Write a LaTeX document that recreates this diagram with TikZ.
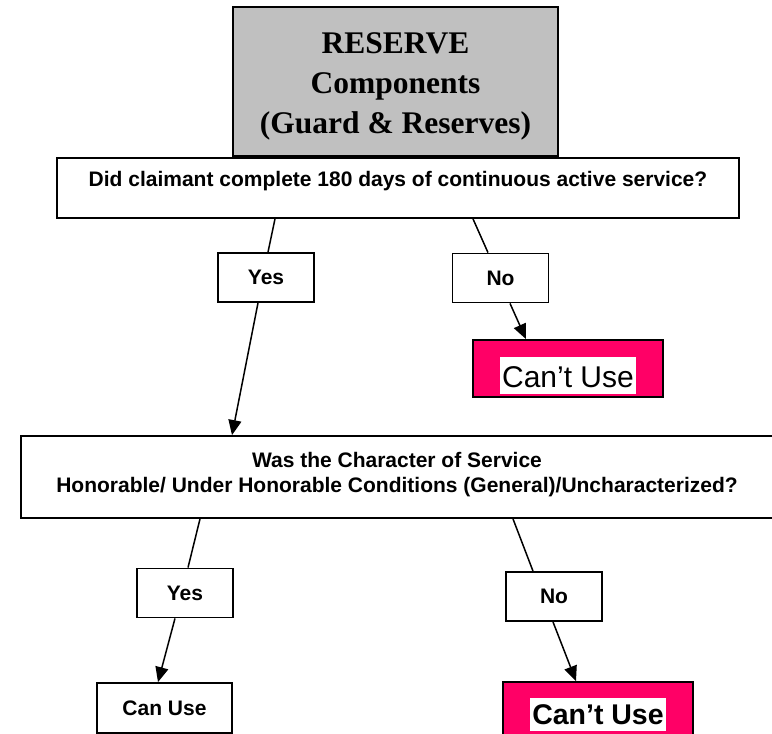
\documentclass[tikz,border=0pt]{standalone}
\usepackage{fontspec}
\setmainfont{Liberation Serif}
\setsansfont{Liberation Sans}
\usetikzlibrary{arrows.meta}
\definecolor{headgray}{HTML}{C0C0C0}
\definecolor{cantred}{HTML}{FF0066}

\begin{document}
\begin{tikzpicture}[x=1pt, y=-1pt]
	\useasboundingbox (0,0) rectangle (772,734);
	\clip (0,0) rectangle (772,734);
	% Define styles
	\tikzstyle{head}=[draw=black, line width=2.8pt, fill=headgray, minimum width=325pt, minimum height=149pt, inner sep=0pt, align=center, text height=106pt, text depth=3pt, font=\rmfamily\bfseries\fontsize{31.5}{40}\selectfont]
	\tikzstyle{quest}=[draw=black, line width=1.8pt, fill=white, inner sep=0pt, align=center, font=\sffamily\bfseries\fontsize{21}{25}\selectfont]
	\tikzstyle{answer}=[draw=black, line width=1.8pt, fill=white, minimum width=96pt, minimum height=49pt, inner sep=0pt, font=\sffamily\bfseries\fontsize{21}{25}\selectfont]
	\tikzstyle{cant}=[draw=black, line width=1.8pt, fill=cantred, minimum width=190pt, inner sep=0pt]
	\tikzstyle{cantlbl}=[fill=white, inner xsep=2pt, inner ysep=0pt, anchor=base]
	\tikzstyle{conn}=[line width=1.5pt]
	\tikzstyle{connarr}=[line width=1.5pt, -{Triangle[length=15pt, width=13pt]}]

	\node[head] (R) at (395.5,81.5) {RESERVE\\Components\\(Guard \& Reserves)};

	% first question
	\node[quest, minimum width=682pt, minimum height=60pt, text depth=18pt] (Q1) at (398,188) {Did claimant complete 180 days of continuous active service?};
		\node[answer] (Y1) at (266,277.5) {Yes};
		\node[answer] (N1) at (500.5,278) {No};
		\node[cant, minimum height=57pt] (C1) at (568,368.5) {};
		\node[cantlbl, font=\sffamily\fontsize{30}{36}\selectfont, text height=30pt, text depth=7pt] (C1txt) at ([yshift=-48pt]C1.north) {Can’t Use};

	% second question
	\node[quest, minimum width=752pt, minimum height=82pt, text depth=9pt] (Q2) at (397,477) {Was the Character of Service\\Honorable/ Under Honorable Conditions (General)/Uncharacterized?};
		\node[answer] (Y2) at (185,593) {Yes};
		\node[answer] (N2) at (554,596.5) {No};
		\node[answer, minimum width=135pt, minimum height=50pt] (CU) at (164.5,708) {Can Use};
		\node[cant, minimum height=68pt] (C2) at (598,716) {};
		\node[cantlbl, font=\sffamily\bfseries\fontsize{28.5}{34}\selectfont, text height=26pt, text depth=7pt] (C2txt) at ([yshift=-43pt]C2.north) {Can’t Use};

	\draw[conn] ([xshift=9pt]Y1.north |- Q1.south) -- ([xshift=2pt]Y1.north);
	\draw[connarr] ([xshift=-8pt]Y1.south) -- ([xshift=-34pt]Y1.south |- Q2.north);
	\draw[conn] ([xshift=-27.5pt]N1.north |- Q1.south) -- ([xshift=-12.5pt]N1.north);
	\draw[connarr] ([xshift=9.5pt]N1.south) -- ([xshift=-42pt]C1.north);
	\draw[conn] ([xshift=15pt]Y2.north |- Q2.south) -- ([xshift=3pt]Y2.north);
	\draw[connarr] ([xshift=-10pt]Y2.south) -- ([xshift=-6.5pt]CU.north);
	\draw[conn] ([xshift=-41pt]N2.north |- Q2.south) -- ([xshift=-21pt]N2.north);
	\draw[connarr] ([xshift=-1pt]N2.south) -- ([xshift=-22pt]C2.north);
\end{tikzpicture}
\end{document}
